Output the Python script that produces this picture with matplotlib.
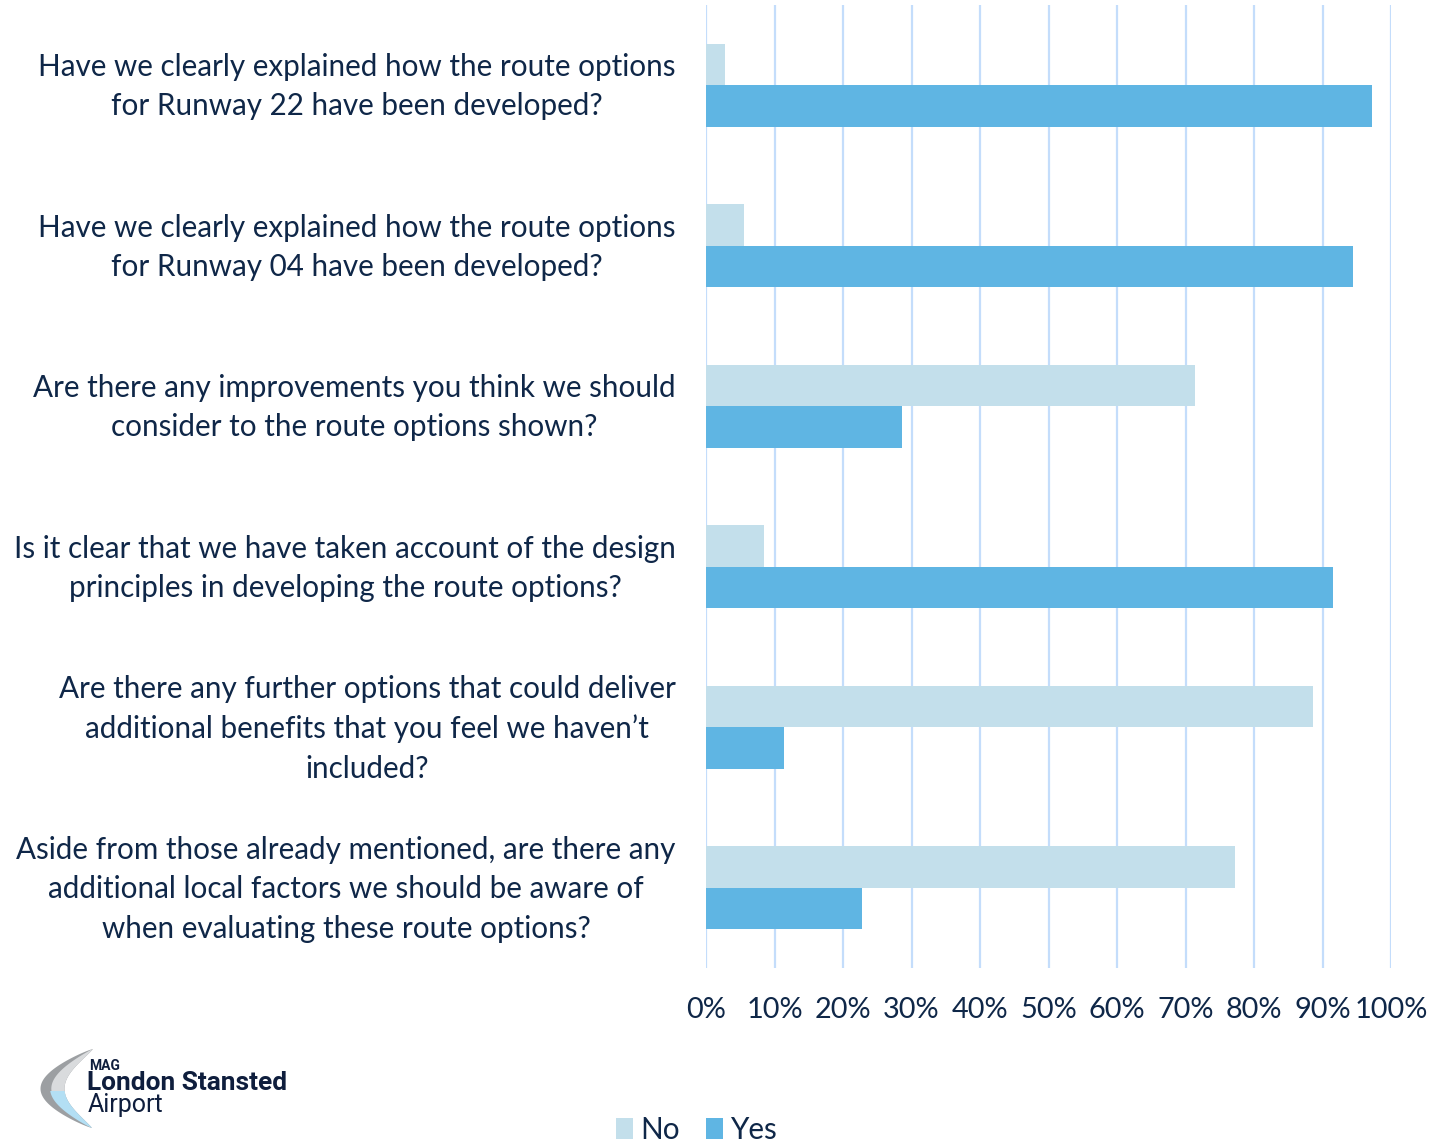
import numpy as np
import matplotlib
matplotlib.use("Agg")
import matplotlib.pyplot as plt
from matplotlib.patches import Polygon

# Survey questions (top to bottom) and answer shares in percent
questions = [
    "Have we clearly explained how the route options\nfor Runway 22 have been developed?",
    "Have we clearly explained how the route options\nfor Runway 04 have been developed?",
    "Are there any improvements you think we should\nconsider to the route options shown?",
    "Is it clear that we have taken account of the design\nprinciples in developing the route options?",
    "Are there any further options that could deliver\nadditional benefits that you feel we haven\u2019t\nincluded?",
    "Aside from those already mentioned, are there any\nadditional local factors we should be aware of\nwhen evaluating these route options?",
]
no_pct = [2.8, 5.6, 71.4, 8.5, 88.6, 77.2]
yes_pct = [97.2, 94.4, 28.6, 91.5, 11.4, 22.8]
x_ticks = [0, 10, 20, 30, 40, 50, 60, 70, 80, 90, 100]
x_tick_labels = [f"{t}%" for t in x_ticks]
series_names = ["No", "Yes"]

TEXT = "#0f2748"
NO_COLOR = "#c3dfeb"
YES_COLOR = "#5fb5e3"
GRID = "#c4ddfb"
FONT = ["Lato", "DejaVu Sans"]
FS = 21.3

W, H = 1429, 1144
fig = plt.figure(figsize=(W / 100, H / 100), dpi=100)
fig.patch.set_facecolor("white")

left, right, top, bottom = 706, 1391, 5, 968
ax = fig.add_axes([left / W, 1 - bottom / H, (right - left) / W, (bottom - top) / H])

y = np.arange(len(questions))
bar_h = 0.26
ax.barh(y - bar_h / 2, no_pct, height=bar_h, color=NO_COLOR, label=series_names[0], zorder=3)
ax.barh(y + bar_h / 2, yes_pct, height=bar_h, color=YES_COLOR, label=series_names[1], zorder=3)

ax.set_xlim(0, 100)
ax.set_ylim(len(questions) - 0.5, -0.5)
ax.set_xticks(x_ticks)
ax.set_xticklabels(x_tick_labels, fontsize=20.8, color=TEXT, family=FONT)
ax.tick_params(axis="x", length=0, pad=21)
ax.set_yticks([])
ax.grid(axis="x", color=GRID, linewidth=1.6, zorder=0)
for s in ax.spines.values():
    s.set_visible(False)

# Question labels, centred lines, block right-aligned next to the axis
for yi, q in zip(y, questions):
    ax.text(-4.4, yi + 0.01, q, transform=ax.transData, ha="right", va="center",
            multialignment="center", fontsize=FS, color=TEXT, family=FONT,
            linespacing=1.49, clip_on=False)

handles, labels = ax.get_legend_handles_labels()
leg = fig.legend(handles, labels, loc="center", bbox_to_anchor=(0.4875, 0.0125),
                 ncol=2, frameon=False, fontsize=FS, handlelength=0.55,
                 handleheight=0.75, handletextpad=0.25, columnspacing=0.9,
                 borderpad=0.0)
for t in leg.get_texts():
    t.set_color(TEXT)
    t.set_family(FONT)

# Airport logo in pixel coordinates
lax = fig.add_axes([0, 0, 1, 1], zorder=5)
lax.set_xlim(0, W)
lax.set_ylim(H, 0)
lax.axis("off")
lax.patch.set_alpha(0)

t = np.linspace(0, 1, 80)
top_tip = np.array([93, 1049])
bot_tip = np.array([92, 1128])
# outer edge bulging left, inner edge a shallower curve
ox = top_tip[0] + (bot_tip[0] - top_tip[0]) * t - 52 * np.sin(np.pi * t) ** 0.85
oy = top_tip[1] + (bot_tip[1] - top_tip[1]) * t
ix = top_tip[0] + (bot_tip[0] - top_tip[0]) * t - 28 * np.sin(np.pi * t) ** 1.1
iy = oy
cres = np.vstack([np.column_stack([ox, oy]), np.column_stack([ix, iy])[::-1]])
lax.add_patch(Polygon(cres, closed=True, facecolor="#9c9fa2", edgecolor="none"))
# lighter band on the upper gray part
hx = ox + (ix - ox) * 0.45
mask = t < 0.6
hl = np.vstack([np.column_stack([hx[mask], oy[mask]]),
                np.column_stack([ix[mask], iy[mask]])[::-1]])
lax.add_patch(Polygon(hl, closed=True, facecolor="#d9dbdd", edgecolor="none"))
# light blue lower inner segment
m2 = t > 0.52
bx = ox + (ix - ox) * 0.4
bl = np.vstack([np.column_stack([bx[m2], oy[m2]]),
                np.column_stack([ix[m2], iy[m2]])[::-1]])
lax.add_patch(Polygon(bl, closed=True, facecolor="#b3dff4", edgecolor="none"))

LOGO = "#0f1e3d"
lax.text(89, 1066, "MAG", fontsize=10, fontweight="bold", color=LOGO,
         family="Roboto", va="center", ha="left")
lax.text(87, 1083, "London Stansted", fontsize=18.9, fontweight="bold",
         color=LOGO, family="Roboto", va="center", ha="left")
lax.text(88, 1105, "Airport", fontsize=18, color=LOGO,
         family="Roboto", va="center", ha="left")

fig.savefig("out.png", dpi=100, facecolor="white")
